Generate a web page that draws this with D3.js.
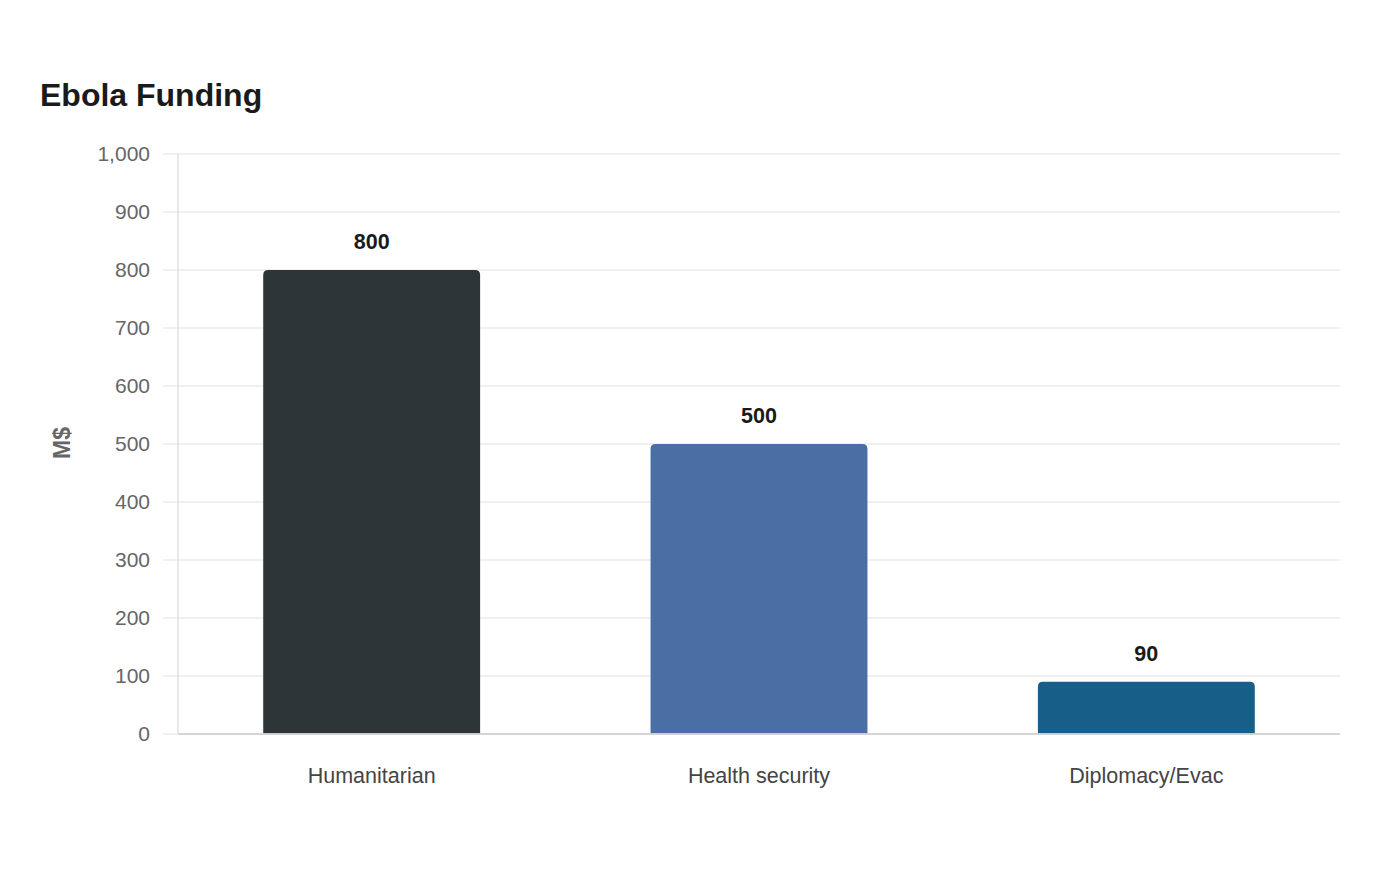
<!DOCTYPE html>
<html><head><meta charset="utf-8">
<script src="https://cdn.jsdelivr.net/npm/d3@7"></script>
<style>body{margin:0;background:#fff;font-family:"Liberation Sans",Arial,sans-serif;}</style>
</head><body>
<svg id="chart" width="1400" height="880"></svg>
<script>
const categories = ["Humanitarian", "Health security", "Diplomacy/Evac"];
const values = [800, 500, 90];
const colors = ["#2e3538", "#4a6fa5", "#175e88"];
const yTicks = [0, 100, 200, 300, 400, 500, 600, 700, 800, 900, 1000];

const svg = d3.select("#chart");
const m = {left: 178, right: 1340, top: 154, bottom: 734};
const x = d3.scaleBand().domain(categories).range([m.left, m.right]).paddingInner(0.44).paddingOuter(0.22);
const y = d3.scaleLinear().domain([0, 1000]).range([m.bottom, m.top]);

svg.append("text").attr("x", 40).attr("y", 106).text("Ebola Funding")
  .attr("font-size", 32).attr("font-weight", "bold").attr("fill", "#1a1a1a");

// gridlines
svg.append("g").selectAll("line").data(yTicks.filter(d => d > 0)).join("line")
  .attr("x1", 163).attr("x2", m.right).attr("y1", d => y(d)).attr("y2", d => y(d))
  .attr("stroke", "#ebebeb").attr("stroke-width", 1.5);
// y axis line
svg.append("line").attr("x1", m.left).attr("x2", m.left).attr("y1", m.top).attr("y2", m.bottom)
  .attr("stroke", "#e0e0e0").attr("stroke-width", 1.5);

// y tick labels
svg.append("g").selectAll("text").data(yTicks).join("text")
  .attr("x", 150).attr("y", d => y(d)).attr("dy", "0.35em").attr("text-anchor", "end")
  .attr("font-size", 21).attr("fill", "#666").text(d => d3.format(",")(d));

// y label
svg.append("text").attr("transform", `translate(70,443) rotate(-90)`).attr("text-anchor", "middle")
  .attr("font-size", 23).attr("font-weight", "bold").attr("fill", "#666").text("M$");

// bars with rounded top
const r = 5;
function barPath(x0, w, y0, y1) {
  return `M${x0},${y1} L${x0},${y0 + r} Q${x0},${y0} ${x0 + r},${y0} L${x0 + w - r},${y0} Q${x0 + w},${y0} ${x0 + w},${y0 + r} L${x0 + w},${y1} Z`;
}
svg.append("g").selectAll("path").data(categories).join("path")
  .attr("d", (c, i) => barPath(x(c), x.bandwidth(), y(values[i]), y(0)))
  .attr("fill", (c, i) => colors[i]);

// baseline
svg.append("line").attr("x1", 163).attr("x2", m.right).attr("y1", y(0)).attr("y2", y(0))
  .attr("stroke", "#ebebeb").attr("stroke-width", 1.5);
svg.append("line").attr("x1", m.left).attr("x2", m.right).attr("y1", y(0)).attr("y2", y(0))
  .attr("stroke", "#cccccc").attr("stroke-width", 1.5);

// value labels
svg.append("g").selectAll("text").data(categories).join("text")
  .attr("x", c => x(c) + x.bandwidth() / 2).attr("y", (c, i) => y(values[i]) - 21)
  .attr("text-anchor", "middle").attr("font-size", 21.5).attr("font-weight", "bold").attr("fill", "#1a1a1a")
  .text((c, i) => d3.format(",")(values[i]));

// category labels
svg.append("g").selectAll("text").data(categories).join("text")
  .attr("x", c => x(c) + x.bandwidth() / 2).attr("y", 783)
  .attr("text-anchor", "middle").attr("font-size", 21.5).attr("fill", "#444").text(c => c);
</script>
</body></html>
